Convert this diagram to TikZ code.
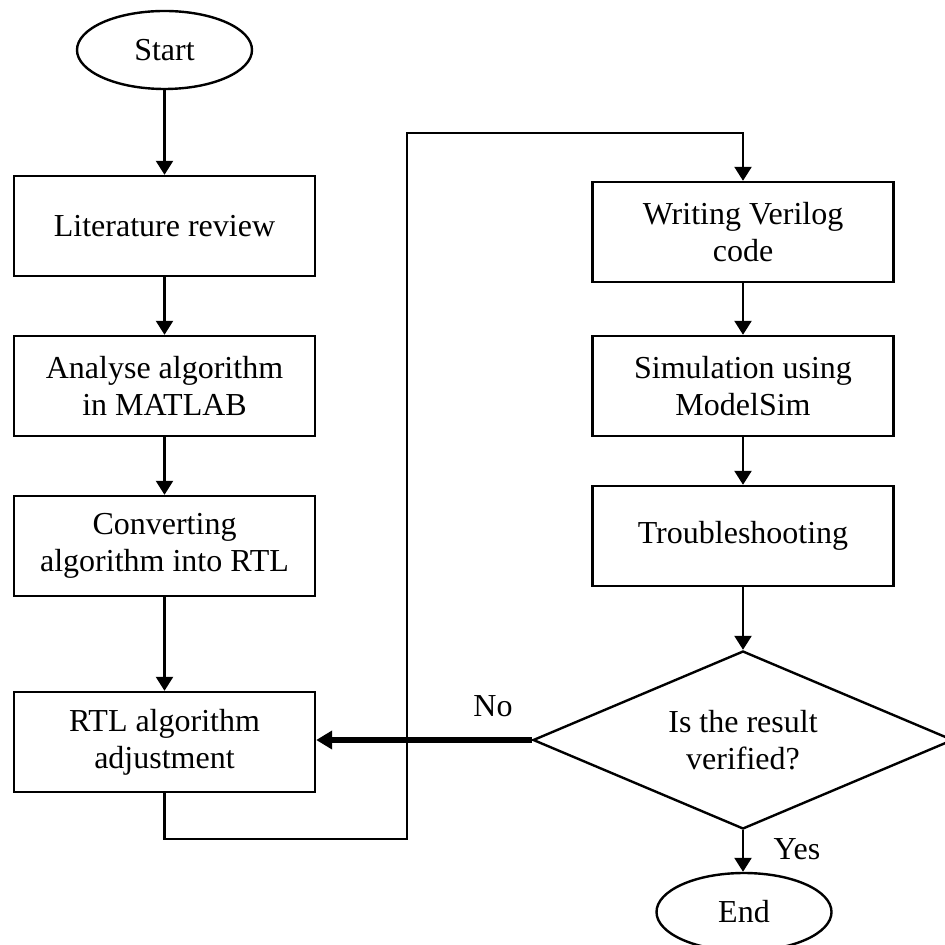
\documentclass[tikz,border=0pt]{standalone}
\usepackage{fontspec}
\setmainfont{Liberation Serif}
\usetikzlibrary{shapes.geometric,arrows.meta}
\begin{document}
\begin{tikzpicture}[x=0.5pt,y=-0.5pt,
  every node/.style={font=\fontsize{16}{18.5}\selectfont},
  stepbox/.style={draw,line width=1.2pt,minimum width=150.5pt,minimum height=50pt,align=center,inner sep=2pt},
  termnode/.style={draw,ellipse,line width=1.2pt,minimum width=87.5pt,minimum height=39pt,inner sep=0pt},
  decision/.style={draw,diamond,line width=1.2pt,aspect=2.36,minimum width=210pt,minimum height=89pt,align=center,inner sep=0pt},
  flowline/.style={line width=1.2pt,-{Triangle[width=8.5pt,length=7pt]}},
  backline/.style={line width=3pt,-{Triangle[width=9pt,length=8pt]}}]
\useasboundingbox (0,0) rectangle (944,945);
% left column
\node[termnode] (start) at (164.5,50) {Start};
\node[stepbox] (lit) at (164.5,226) {Literature review};
\node[stepbox] (ana) at (164.5,386) {Analyse algorithm\\in MATLAB};
\node[stepbox] (conv) at (164.5,546) {Converting\\algorithm into RTL};
\node[stepbox] (adj) at (164.5,742) {RTL algorithm\\adjustment};
% right column
\node[stepbox] (wri) at (743,232) {Writing Verilog\\code};
\node[stepbox] (sim) at (743,386) {Simulation using\\ModelSim};
\node[stepbox] (trb) at (743,536) {Troubleshooting};
\node[decision] (dec) at (743,740) {Is the result\\verified?};
\node[termnode] (fin) at (744,912) {End};
\node (no) at (493,706) {No};
\node (yes) at (797,849) {Yes};
\coordinate (lpA) at (407,839);
\coordinate (lpB) at (407,133);

\draw[flowline] (start) -- (lit);
\draw[flowline] (lit) -- (ana);
\draw[flowline] (ana) -- (conv);
\draw[flowline] (conv) -- (adj);
\draw[flowline] (adj.south) |- (lpA) -- (lpB) -| (wri.north);
\draw[flowline] (wri) -- (sim);
\draw[flowline] (sim) -- (trb);
\draw[flowline] (trb) -- (dec);
\draw[flowline] (dec.south) -- (fin.north -| dec.south);
\draw[backline] (dec.west) -- (dec.west -| adj.east);
\end{tikzpicture}
\end{document}
